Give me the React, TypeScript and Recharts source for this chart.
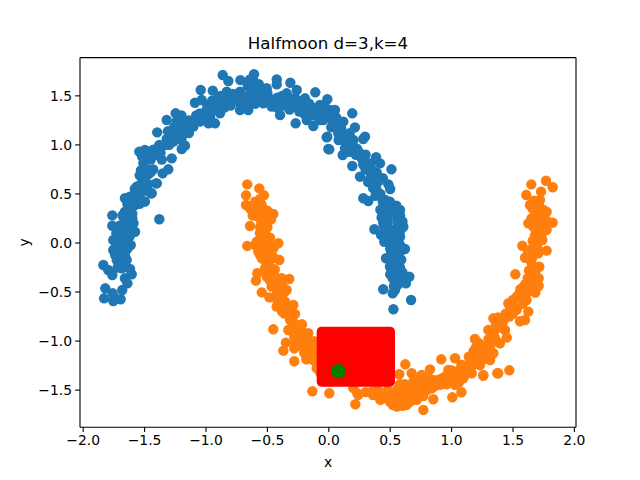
import { ScatterChart, Scatter, XAxis, YAxis, ReferenceArea, ReferenceLine } from "recharts";

// points, [x, y]
const blueLeftArm = [
  [-1.836, -0.224], [-1.796, -0.275], [-1.763, -0.326], [-1.619, -0.265], [-1.605, -0.319], [-1.66, -0.36],
  [-1.64, -0.411], [-1.682, -0.479], [-1.82, -0.462], [-1.83, -0.564], [-1.755, -0.591], [-1.695, -0.574],
  [-1.76, -0.513], [-1.741, -0.564], [-1.727, -0.173], [-1.646, -0.173], [-1.686, -0.258], [-1.755, -0.071],
  [-1.67, -0.07], [-1.613, -0.02], [-1.755, 0.03], [-1.67, 0.03], [-1.578, 0.115], [-1.67, 0.1],
  [-1.646, 0.2], [-1.59, 0.2], [-1.7, 0.18], [-1.66, 0.32], [-1.578, 0.387], [-1.66, 0.456],
  [-1.62, 0.472], [-1.497, 0.421], [-1.54, 0.4], [-1.442, 0.507], [-1.4, 0.608], [-1.564, 0.574],
  [-1.51, 0.642], [-1.54, 0.69], [-1.763, 0.282], [-1.763, 0.176], [-1.38, 0.242], [-1.72, 0.08],
  [-1.7, -0.12], [-1.73, -0.02], [-1.63, 0.13], [-1.65, 0.26], [-1.6, 0.3],
  [-1.72, -0.25], [-1.68, -0.2], [-1.74, -0.12], [-1.66, -0.12], [-1.71, -0.05], [-1.64, -0.06],
  [-1.72, 0.0], [-1.64, 0.02], [-1.7, 0.05], [-1.62, 0.07], [-1.73, 0.1], [-1.64, 0.1],
  [-1.68, 0.16], [-1.62, 0.17], [-1.66, 0.22], [-1.6, 0.25], [-1.68, 0.28], [-1.63, 0.33],
  [-1.6, 0.37], [-1.64, 0.4], [-1.58, 0.43], [-1.6, 0.47], [-1.56, 0.5], [-1.52, 0.52],
  [-1.58, 0.55], [-1.5, 0.57], [-1.53, 0.6], [-1.47, 0.6], [-1.5, 0.66], [-1.47, 0.7],
];
const blueCrown = [
  [-0.864, 1.712], [-0.818, 1.651], [-1.043, 1.56], [-0.945, 1.553], [-0.72, 1.66], [-0.609, 1.72],
  [-0.642, 1.668], [-0.424, 1.668], [-0.424, 1.617], [-0.313, 1.634], [-0.11, 1.536], [-0.012, 1.465],
  [-0.017, 1.077], [-0.004, 0.958], [-1.09, 1.43], [-1.035, 1.458], [-1.247, 1.322], [-1.32, 1.254],
  [-1.397, 1.128], [-1.543, 0.931], [-1.497, 0.948], [-1.279, 0.863], [-1.171, 0.992], [-1.198, 0.958],
  [-1.353, 0.71], [-1.307, 0.751], [-1.407, 0.608], [-1.45, 0.507], [-1.51, 0.812], [-1.415, 0.914],
  [-1.361, 0.982], [-1.51, 0.676], [-1.551, 0.574], [-1.537, 0.438], [-1.252, 1.118], [-1.266, 1.033],
  [-1.212, 1.152], [-1.185, 1.254], [-1.103, 1.186], [-1.049, 1.237], [-0.967, 1.288], [-0.927, 1.22],
  [-0.886, 1.322], [-0.954, 1.407], [-0.859, 1.458], [-0.778, 1.458], [-0.831, 1.542], [-0.723, 1.542],
  [-0.669, 1.475], [-0.723, 1.356], [-0.656, 1.356], [-0.587, 1.56], [-0.615, 1.662], [-0.506, 1.577],
  [-0.533, 1.424], [-0.465, 1.39], [-0.397, 1.305], [-0.343, 1.526], [-0.261, 1.56], [-0.275, 1.407],
  [-0.27, 1.22], [-0.194, 1.475], [-0.18, 1.254], [-0.126, 1.193], [-0.072, 1.407], [-0.072, 1.254],
  [0.01, 1.356], [-1.45, 0.85], [-1.43, 0.75], [-1.36, 0.85], [-1.3, 1.0], [-1.2, 1.05],
  [-1.14, 1.12], [-1.14, 1.25], [-1.05, 1.32], [-0.98, 1.22], [-0.85, 1.38], [-0.9, 1.48],
  [-0.76, 1.5], [-0.6, 1.48], [-0.55, 1.52], [-0.42, 1.48], [-0.36, 1.4], [-0.32, 1.36],
  [-0.22, 1.38], [-0.14, 1.35], [-0.03, 1.3], [-0.2, 1.32], [-0.42, 1.38], [-0.6, 1.42],
  [-1.53, 0.74], [-1.49, 0.76], [-1.45, 0.72], [-1.52, 0.88], [-1.47, 0.9], [-1.43, 0.95],
  [-1.4, 0.9], [-1.37, 0.92], [-1.38, 1.0], [-1.33, 1.0], [-1.32, 1.06], [-1.27, 1.08],
  [-1.31, 1.14], [-1.26, 1.18], [-1.22, 1.2], [-1.19, 1.1], [-1.24, 1.24], [-1.16, 1.18],
  [-1.2, 1.3], [-1.13, 1.22], [-1.1, 1.25], [-1.08, 1.3], [-1.02, 1.29], [-1.0, 1.34],
  [-0.96, 1.33], [-0.99, 1.4], [-0.93, 1.37], [-0.9, 1.42], [-0.95, 1.45], [-0.88, 1.5],
  [-0.85, 1.42], [-0.82, 1.47], [-0.8, 1.4], [-0.78, 1.52], [-0.74, 1.47], [-0.72, 1.42],
  [-0.7, 1.5], [-0.66, 1.42], [-0.64, 1.52], [-0.62, 1.58], [-0.66, 1.6], [-0.57, 1.62],
  [-0.55, 1.46], [-0.5, 1.48], [-0.5, 1.53], [-0.46, 1.46], [-0.4, 1.44], [-0.38, 1.5],
  [-0.34, 1.44], [-0.3, 1.47], [-0.3, 1.4], [-0.26, 1.46], [-0.24, 1.34], [-0.2, 1.42],
  [-0.16, 1.42], [-0.17, 1.3], [-0.12, 1.3], [-0.1, 1.38], [-0.06, 1.33], [-0.03, 1.38],
];
const blueRightArm = [
  [0.191, 1.322], [0.213, 1.179], [0.004, 0.955], [0.295, 1.084], [0.28, 1.06], [0.113, 0.897],
  [0.191, 0.785], [0.51, 0.751], [0.485, 0.598], [0.385, 0.874], [0.281, 0.456], [0.322, 0.428],
  [0.371, 0.14], [0.425, 0.082], [0.452, 0.013], [0.466, -0.156], [0.498, -0.242], [0.62, -0.061],
  [0.656, -0.343], [0.628, -0.411], [0.443, -0.472], [0.52, -0.513], [0.67, -0.581], [0.526, -0.676],
  [0.58, 0.336], [0.607, 0.166], [0.58, 0.064], [0.444, 0.2], [0.444, 0.37], [0.498, 0.42],
  [0.39, 0.54], [0.336, 0.659], [0.254, 0.676], [0.417, 0.812], [0.336, 0.812], [0.268, 0.863],
  [0.2, 0.982], [0.132, 0.965], [0.159, 1.067], [0.077, 1.118], [-0.012, 1.084], [0.118, 1.237],
  [0.05, 1.356], [-0.045, 1.254], [0.553, -0.14], [0.553, -0.242], [0.58, -0.377], [0.539, -0.479],
  [0.594, -0.071], [0.52, 0.3], [0.56, 0.24], [0.5, 0.14], [0.54, 0.04], [0.5, 0.55],
  [0.44, 0.66], [0.39, 0.72], [0.3, 0.75], [0.22, 0.9], [0.06, 1.2], [0.52, -0.36],
  [0.6, -0.3], [0.5, -0.06], [0.47, 0.28],
  [0, 1.28], [0.03, 1.25], [0.02, 1.18], [0.06, 1.28], [0.1, 1.17], [0.12, 1.11],
  [0.08, 1.05], [0.14, 1.02], [0.17, 1.12], [0.2, 1.05], [0.23, 0.96], [0.17, 0.93],
  [0.25, 0.92], [0.28, 0.8], [0.3, 0.9], [0.32, 0.74], [0.35, 0.75], [0.37, 0.66],
  [0.32, 0.62], [0.4, 0.62], [0.36, 0.56], [0.42, 0.5], [0.38, 0.48], [0.46, 0.44],
  [0.44, 0.42], [0.42, 0.34], [0.47, 0.36], [0.55, 0.38], [0.5, 0.38], [0.53, 0.32],
  [0.58, 0.28], [0.43, 0.26], [0.48, 0.22], [0.56, 0.2], [0.6, 0.22], [0.45, 0.16],
  [0.53, 0.12], [0.58, 0.12], [0.48, 0.08], [0.56, 0.02], [0.5, 0.0], [0.52, -0.04],
  [0.58, -0.02], [0.56, -0.1], [0.5, -0.13], [0.59, -0.17], [0.52, -0.2], [0.58, -0.25],
  [0.54, -0.3], [0.6, -0.34], [0.56, -0.38], [0.5, -0.32], [0.62, -0.36], [0.56, -0.43],
  [0.53, -0.44],
];
const orangeLeftArm = [
  [-0.664, 0.598], [-0.566, 0.557], [-0.674, 0.486], [-0.528, 0.486], [-0.674, 0.387], [-0.452, 0.296],
  [-0.642, 0.173], [-0.664, -0.03], [-0.479, 0.054], [-0.411, -0.003], [-0.403, -0.173], [-0.582, -0.309],
  [-0.593, -0.384], [-0.322, -0.367], [-0.546, -0.503], [-0.484, -0.554], [-0.343, -0.479], [-0.452, -0.88],
  [-0.289, -0.632], [-0.275, -0.724], [-0.218, -0.829], [-0.37, -1.098], [-0.281, -1.206], [-0.183, -1.186],
  [-0.281, -1.074], [-0.349, -1.016], [-0.134, -1.512], [0.004, -1.532], [0.216, -1.644], [-0.615, 0.336],
  [-0.546, 0.387], [-0.506, 0.268], [-0.574, 0.268], [-0.533, 0.166], [-0.56, 0.099], [-0.587, 0.013],
  [-0.52, -0.02], [-0.574, -0.088], [-0.465, -0.088], [-0.546, -0.156], [-0.479, -0.173], [-0.465, -0.258],
  [-0.506, -0.343], [-0.438, -0.343], [-0.384, -0.36], [-0.465, -0.445], [-0.41, -0.428], [-0.397, -0.547],
  [-0.425, -0.649], [-0.356, -0.598], [-0.343, -0.7], [-0.316, -0.785], [-0.33, -0.887], [-0.261, -0.853],
  [-0.167, -0.92], [-0.234, -0.989], [-0.153, -1.022], [-0.167, -1.108], [-0.126, -1.193], [-0.098, -1.277],
  [-0.6, 0.42], [-0.56, 0.45], [-0.62, 0.28], [-0.5, 0.33], [-0.5, -0.08], [-0.52, -0.26],
  [-0.6, 0.38], [-0.64, 0.35], [-0.58, 0.36], [-0.56, 0.33], [-0.54, 0.32], [-0.6, 0.3],
  [-0.55, 0.22], [-0.52, 0.21], [-0.47, 0.24], [-0.5, 0.16], [-0.56, 0.16], [-0.52, 0.11],
  [-0.56, 0.04], [-0.53, 0.05], [-0.5, 0.03], [-0.6, -0.02], [-0.56, -0.04], [-0.53, -0.1],
  [-0.48, -0.03], [-0.45, -0.05], [-0.5, -0.14], [-0.56, -0.12], [-0.52, -0.18], [-0.45, -0.15],
  [-0.47, -0.3], [-0.44, -0.27], [-0.48, -0.38], [-0.42, -0.38], [-0.44, -0.42], [-0.38, -0.42],
  [-0.42, -0.5], [-0.36, -0.5], [-0.38, -0.58], [-0.42, -0.58], [-0.35, -0.65], [-0.38, -0.7],
  [-0.32, -0.68], [-0.36, -0.72], [-0.3, -0.75], [-0.28, -0.82], [-0.3, -0.9], [-0.25, -0.9],
  [-0.22, -0.9], [-0.28, -0.96], [-0.2, -0.97], [-0.17, -0.98], [-0.27, -1.02], [-0.22, -1.05],
  [-0.12, -1.0], [-0.14, -1.08], [-0.2, -1.12], [-0.13, -1.15], [-0.09, -1.1], [-0.1, -1.22],
  [-0.07, -1.32], [-0.05, -1.38],
];
const orangeTrough = [
  [0.2, -1.48], [0.24, -1.549], [0.232, -1.532], [0.623, -1.237], [0.574, -1.338], [0.675, -1.328],
  [0.77, -1.702], [0.851, -1.593], [1.006, -1.573], [1.08, -1.522], [0.916, -1.186], [1.028, -1.175],
  [0.824, -1.288], [0.757, -1.346], [0.553, -1.668], [0.498, -1.618], [0.417, -1.583], [0.349, -1.516],
  [0.634, -1.651], [0.716, -1.6], [0.77, -1.56], [0.376, -1.516], [0.444, -1.549], [0.553, -1.498],
  [0.607, -1.549], [0.688, -1.414], [0.661, -1.532], [0.743, -1.379], [0.77, -1.481], [0.838, -1.481],
  [0.906, -1.447], [0.946, -1.363], [0.973, -1.295], [1.041, -1.328], [1.028, -1.447], [1.109, -1.261],
  [1.096, -1.379], [0.6, -1.6], [0.48, -1.5], [0.75, -1.43], [0.85, -1.4], [0.67, -1.48],
  [0.3, -1.52], [0.36, -1.55], [0.4, -1.5], [0.42, -1.6], [0.46, -1.58], [0.5, -1.55],
  [0.52, -1.65], [0.56, -1.6], [0.58, -1.54], [0.6, -1.66], [0.62, -1.5], [0.64, -1.58],
  [0.66, -1.62], [0.68, -1.55], [0.7, -1.5], [0.72, -1.54], [0.62, -1.44], [0.65, -1.46],
  [0.58, -1.44], [0.55, -1.52], [0.74, -1.44], [0.78, -1.42], [0.8, -1.5], [0.82, -1.38],
  [0.76, -1.36], [0.86, -1.46], [0.88, -1.4], [0.92, -1.38], [0.96, -1.44], [0.98, -1.38],
  [1.0, -1.3], [1.02, -1.38], [1.06, -1.3], [1.06, -1.42], [1.08, -1.24], [1.12, -1.33],
];
const orangeRightArm = [
  [1.649, 0.598], [1.769, 0.635], [1.823, 0.568], [1.608, 0.489], [1.728, 0.523], [1.72, 0.438],
  [1.638, 0.387], [1.774, 0.319], [1.823, 0.207], [1.625, 0.2], [1.774, 0.133], [1.739, 0.03],
  [1.576, -0.028], [1.774, -0.078], [1.598, -0.15], [1.714, -0.242], [1.519, -0.319], [1.709, -0.36],
  [1.709, -0.438], [1.682, -0.506], [1.625, -0.7], [1.598, -0.785], [1.557, -0.798], [1.34, -0.768],
  [1.449, -0.965], [1.462, -0.615], [1.19, -0.979], [1.38, -1.328], [1.47, -1.298], [1.258, -1.346],
  [1.372, -1.328], [1.258, -1.353], [1.164, -1.328], [1.19, -1.175], [1.245, -1.124], [1.231, -1.244],
  [1.313, -1.193], [1.299, -1.022], [1.353, -0.887], [1.34, -1.124], [1.394, -1.022], [1.15, -1.193],
  [1.231, -1.091], [1.313, -1.074], [1.367, -1.006], [1.299, -0.887], [1.394, -0.785], [1.435, -0.887],
  [1.476, -0.649], [1.53, -0.547], [1.61, -0.581], [1.585, -0.445], [1.652, -0.411], [1.652, -0.326],
  [1.652, -0.207], [1.638, -0.071], [1.706, -0.105], [1.72, 0.048], [1.665, 0.166], [1.72, 0.2],
  [1.761, 0.234], [1.747, 0.336], [1.706, 0.303], [1.2, -1.06], [1.27, -1.18], [1.5, -0.72],
  [1.58, -0.62], [1.68, -0.02], [1.7, 0.12], [1.1, -1.3],
  [1.14, -1.26], [1.14, -1.16], [1.18, -1.24], [1.18, -1.1], [1.22, -1.18], [1.22, -1.02],
  [1.26, -1.06], [1.27, -1.12], [1.3, -0.98], [1.33, -1.0], [1.35, -0.96], [1.36, -0.84],
  [1.4, -0.86], [1.42, -0.8], [1.38, -0.76], [1.44, -0.72], [1.47, -0.75], [1.5, -0.64],
  [1.53, -0.68], [1.5, -0.58], [1.55, -0.52], [1.58, -0.56], [1.56, -0.47], [1.6, -0.42],
  [1.62, -0.5], [1.64, -0.46], [1.62, -0.36], [1.66, -0.38], [1.63, -0.28], [1.68, -0.3],
  [1.62, -0.14], [1.66, -0.14], [1.62, -0.08], [1.7, -0.06], [1.66, 0.02], [1.7, 0.0],
  [1.68, 0.08], [1.73, 0.08], [1.7, 0.16], [1.65, 0.25], [1.68, 0.27], [1.74, 0.28],
  [1.78, 0.22], [1.66, 0.35], [1.72, 0.36], [1.76, 0.3], [1.7, 0.42], [1.67, 0.43],
];
const greenCenter = [[0.077, -1.308]];

const xRange = [-2.026, 2.013];
const yRange = [-1.878, 1.89];
const xTicks = [-2, -1.5, -1, -0.5, 0, 0.5, 1, 1.5, 2];
const yTicks = [-1.5, -1, -0.5, 0, 0.5, 1, 1.5];
const redBox = { x1: -0.0985, x2: 0.539, y1: -0.853, y2: -1.465 };

const FONT = "DejaVu Sans";
const toRows = (pts: number[][]) => pts.map(([x, y]) => ({ x, y }));
const fmt = (v: number) => v.toFixed(1).replace("-", "\u2212");
const dot = (fill: string, r: number) => (p: any) => <circle cx={p.cx} cy={p.cy} r={r} fill={fill} />;

const tickStyle = { fontSize: 13.9, fontFamily: FONT, fill: "#000" };
const axisLine = { stroke: "#000", strokeWidth: 1.1 };

export default function App() {
  return (
    <div style={{ position: "absolute", left: 0, top: 0, width: 640, height: 480, background: "#fff" }}>
      <ScatterChart width={640} height={480} margin={{ top: 57.6, right: 64, bottom: 0, left: 0 }}>
        <XAxis
          type="number"
          dataKey="x"
          domain={xRange}
          ticks={xTicks}
          tickFormatter={fmt}
          height={52.8}
          tick={tickStyle}
          tickSize={4.9}
          tickMargin={3}
          axisLine={axisLine}
          tickLine={axisLine}
          allowDataOverflow
          interval={0}
        />
        <YAxis
          type="number"
          dataKey="y"
          domain={yRange}
          ticks={yTicks}
          tickFormatter={fmt}
          width={80}
          tick={tickStyle}
          tickSize={4.9}
          tickMargin={3}
          axisLine={axisLine}
          tickLine={axisLine}
          allowDataOverflow
          interval={0}
        />
        <ReferenceLine x={xRange[1]} stroke="#000" strokeWidth={1.1} />
        <ReferenceLine y={yRange[1]} stroke="#000" strokeWidth={1.1} />
        <Scatter data={toRows([...blueLeftArm, ...blueCrown, ...blueRightArm])} fill="#1f77b4" shape={dot("#1f77b4", 5.2)} isAnimationActive={false} />
        <Scatter data={toRows([...orangeLeftArm, ...orangeTrough, ...orangeRightArm])} fill="#ff7f0e" shape={dot("#ff7f0e", 5.2)} isAnimationActive={false} />
        <ReferenceArea {...redBox} fill="#ff0000" fillOpacity={1} stroke="none" radius={5} zIndex={650} />
        <Scatter data={toRows(greenCenter)} fill="#008000" shape={dot("#008000", 7.3)} isAnimationActive={false} zIndex={700} />
        <text x={328} y={49} textAnchor="middle" fontSize={16.67} fontFamily={FONT} fill="#000">Halfmoon d=3,k=4</text>
        <text x={328} y={467} textAnchor="middle" fontSize={13.9} fontFamily={FONT} fill="#000">x</text>
        <text x={29} y={242.4} textAnchor="middle" fontSize={13.9} fontFamily={FONT} fill="#000" transform="rotate(-90 29 242.4)">y</text>
      </ScatterChart>
    </div>
  );
}
